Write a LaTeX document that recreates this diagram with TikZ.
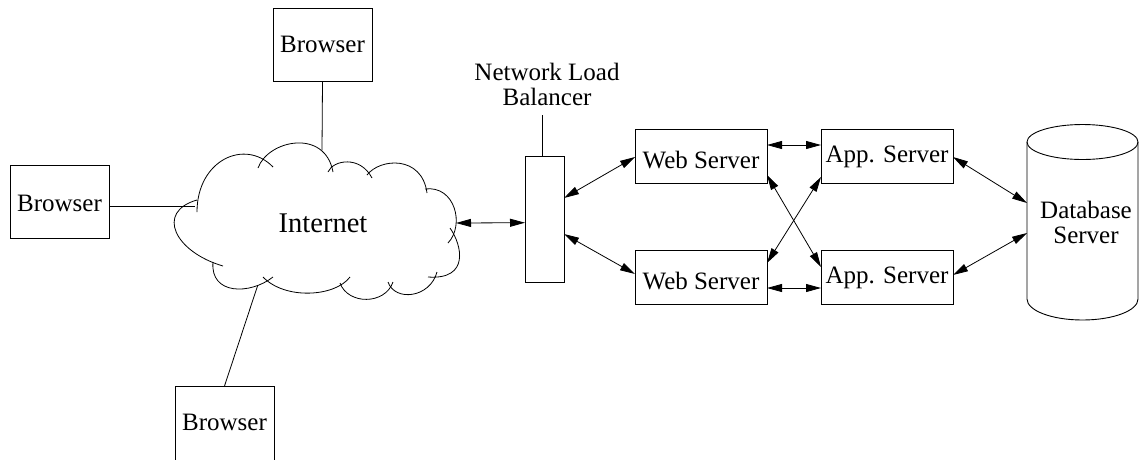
\documentclass[tikz,border=0pt]{standalone}
\usepackage{fontspec}
\setmainfont{Liberation Serif}
\usetikzlibrary{arrows.meta}
\begin{document}
\begin{tikzpicture}[x=1pt,y=-1pt,line width=0.9pt,
  box/.style={draw,rectangle,inner sep=0pt,outer sep=0pt,font=\fontsize{25}{30}\selectfont},
  browserbox/.style={box,minimum width=99pt,minimum height=73pt},
  serverbox/.style={box,minimum width=132pt,minimum height=54pt},
  link/.style={{Triangle[length=15pt,width=8pt]}-{Triangle[length=15pt,width=8pt]},line width=0.8pt},
  wire/.style={line width=0.8pt},
  bump/.style={line width=0.8pt}]
\clip (0,0) rectangle (1139,459);

% browsers
\node[browserbox,text height=16pt,text depth=1pt] (b1) at (322.5,44.5) {Browser};
\node[browserbox,text height=19pt,text depth=0pt] (b2) at (59.5,201.5) {Browser};
\node[browserbox,minimum height=76pt,text height=16pt,text depth=4pt] (b3) at (224.5,424) {Browser};

% internet cloud, drawn as overlapping arcs
\draw[bump] (197,212) .. controls (197,160) and (245,138) .. (273,167);
\draw[bump] (258,168) .. controls (268,140) and (325,128) .. (333,172);
\draw[bump] (328,172) .. controls (333,160) and (360,155) .. (372,178);
\draw[bump] (367,175) .. controls (380,158) and (422,155) .. (427,193);
\draw[bump] (425,189) .. controls (455,185) and (465,225) .. (448,243);
\draw[bump] (450,228) .. controls (462,245) and (470,280) .. (428,277);
\draw[bump] (437,272) .. controls (430,298) and (395,302) .. (388,282);
\draw[bump] (393,282) .. controls (385,305) and (348,305) .. (340,283);
\draw[bump] (350,277) .. controls (335,297) and (285,300) .. (263,277);
\draw[bump] (273,277) .. controls (250,295) and (210,295) .. (213,262);
\draw[bump] (223,266) .. controls (175,252) and (155,212) .. (197,200);
\node[font=\fontsize{28.5}{34}\selectfont,anchor=base] (inet) at (323,232) {Internet};

\coordinate (ctop) at (322,150);
\coordinate (cleft) at (195,206);
\coordinate (cbot) at (257.5,286);
\coordinate (cright) at (456,223);

\draw[wire] (b1.south) -- (ctop);
\draw[wire] ([yshift=-4.5pt]b2.east) -- (cleft);
\draw[wire] (b3.north) -- (cbot);

% load balancer
\node[draw,inner sep=0pt,outer sep=0pt,minimum width=39pt,minimum height=126pt] (lb) at (544.5,219) {};
\node[font=\fontsize{25}{25}\selectfont,align=center] (lbl) at (547,84) {Network Load\\Balancer};
\coordinate (lbtop) at (542,115);
\draw[wire] (lbtop) -- (lbtop |- lb.north);

% web and application servers
\node[serverbox,text height=24pt,text depth=0pt] (w1) at (701,156) {Web Server};
\node[serverbox,text height=24pt,text depth=0pt] (w2) at (701,277) {Web Server};
\node[serverbox,text height=17pt,text depth=5pt] (a1) at (887,156) {App. Server};
\node[serverbox,text height=17pt,text depth=5pt] (a2) at (887,277) {App. Server};

% database cylinder
\node[inner sep=0pt,outer sep=0pt,minimum width=111pt,minimum height=157pt] (db) at (1082.5,220.5) {};
\draw (db.north west) -- (db.south west)
  arc[start angle=180,end angle=0,x radius=55.5,y radius=21] -- (db.north east);
\draw (db.north) ellipse[x radius=55.5,y radius=17.5];
\node[font=\fontsize{25}{24.5}\selectfont,align=center] (dbl) at (1086,222.5) {Database\\Server};

% connections
\draw[link] (cright) -- ([yshift=-3.7pt]lb.west);
\draw[link] ([yshift=21pt]lb.east) -- ([yshift=-1pt]w1.west);
\draw[link] ([yshift=-15pt]lb.east) -- ([yshift=3pt]w2.west);
\draw[link] ([yshift=11pt]w1.east) -- ([yshift=11pt]a1.west);
\draw[link] ([yshift=-11pt]w2.east) -- ([yshift=-11pt]a2.west);
\draw[link] ([yshift=-19pt]w1.east) -- ([yshift=10pt]a2.west);
\draw[link] ([yshift=-21pt]a1.west) -- ([yshift=14pt]w2.east);
\draw[link] ([yshift=-1pt]a1.east) -- ([yshift=17.5pt]db.west);
\draw[link] ([yshift=2pt]a2.east) -- ([yshift=-12.5pt]db.west);
\end{tikzpicture}
\end{document}
